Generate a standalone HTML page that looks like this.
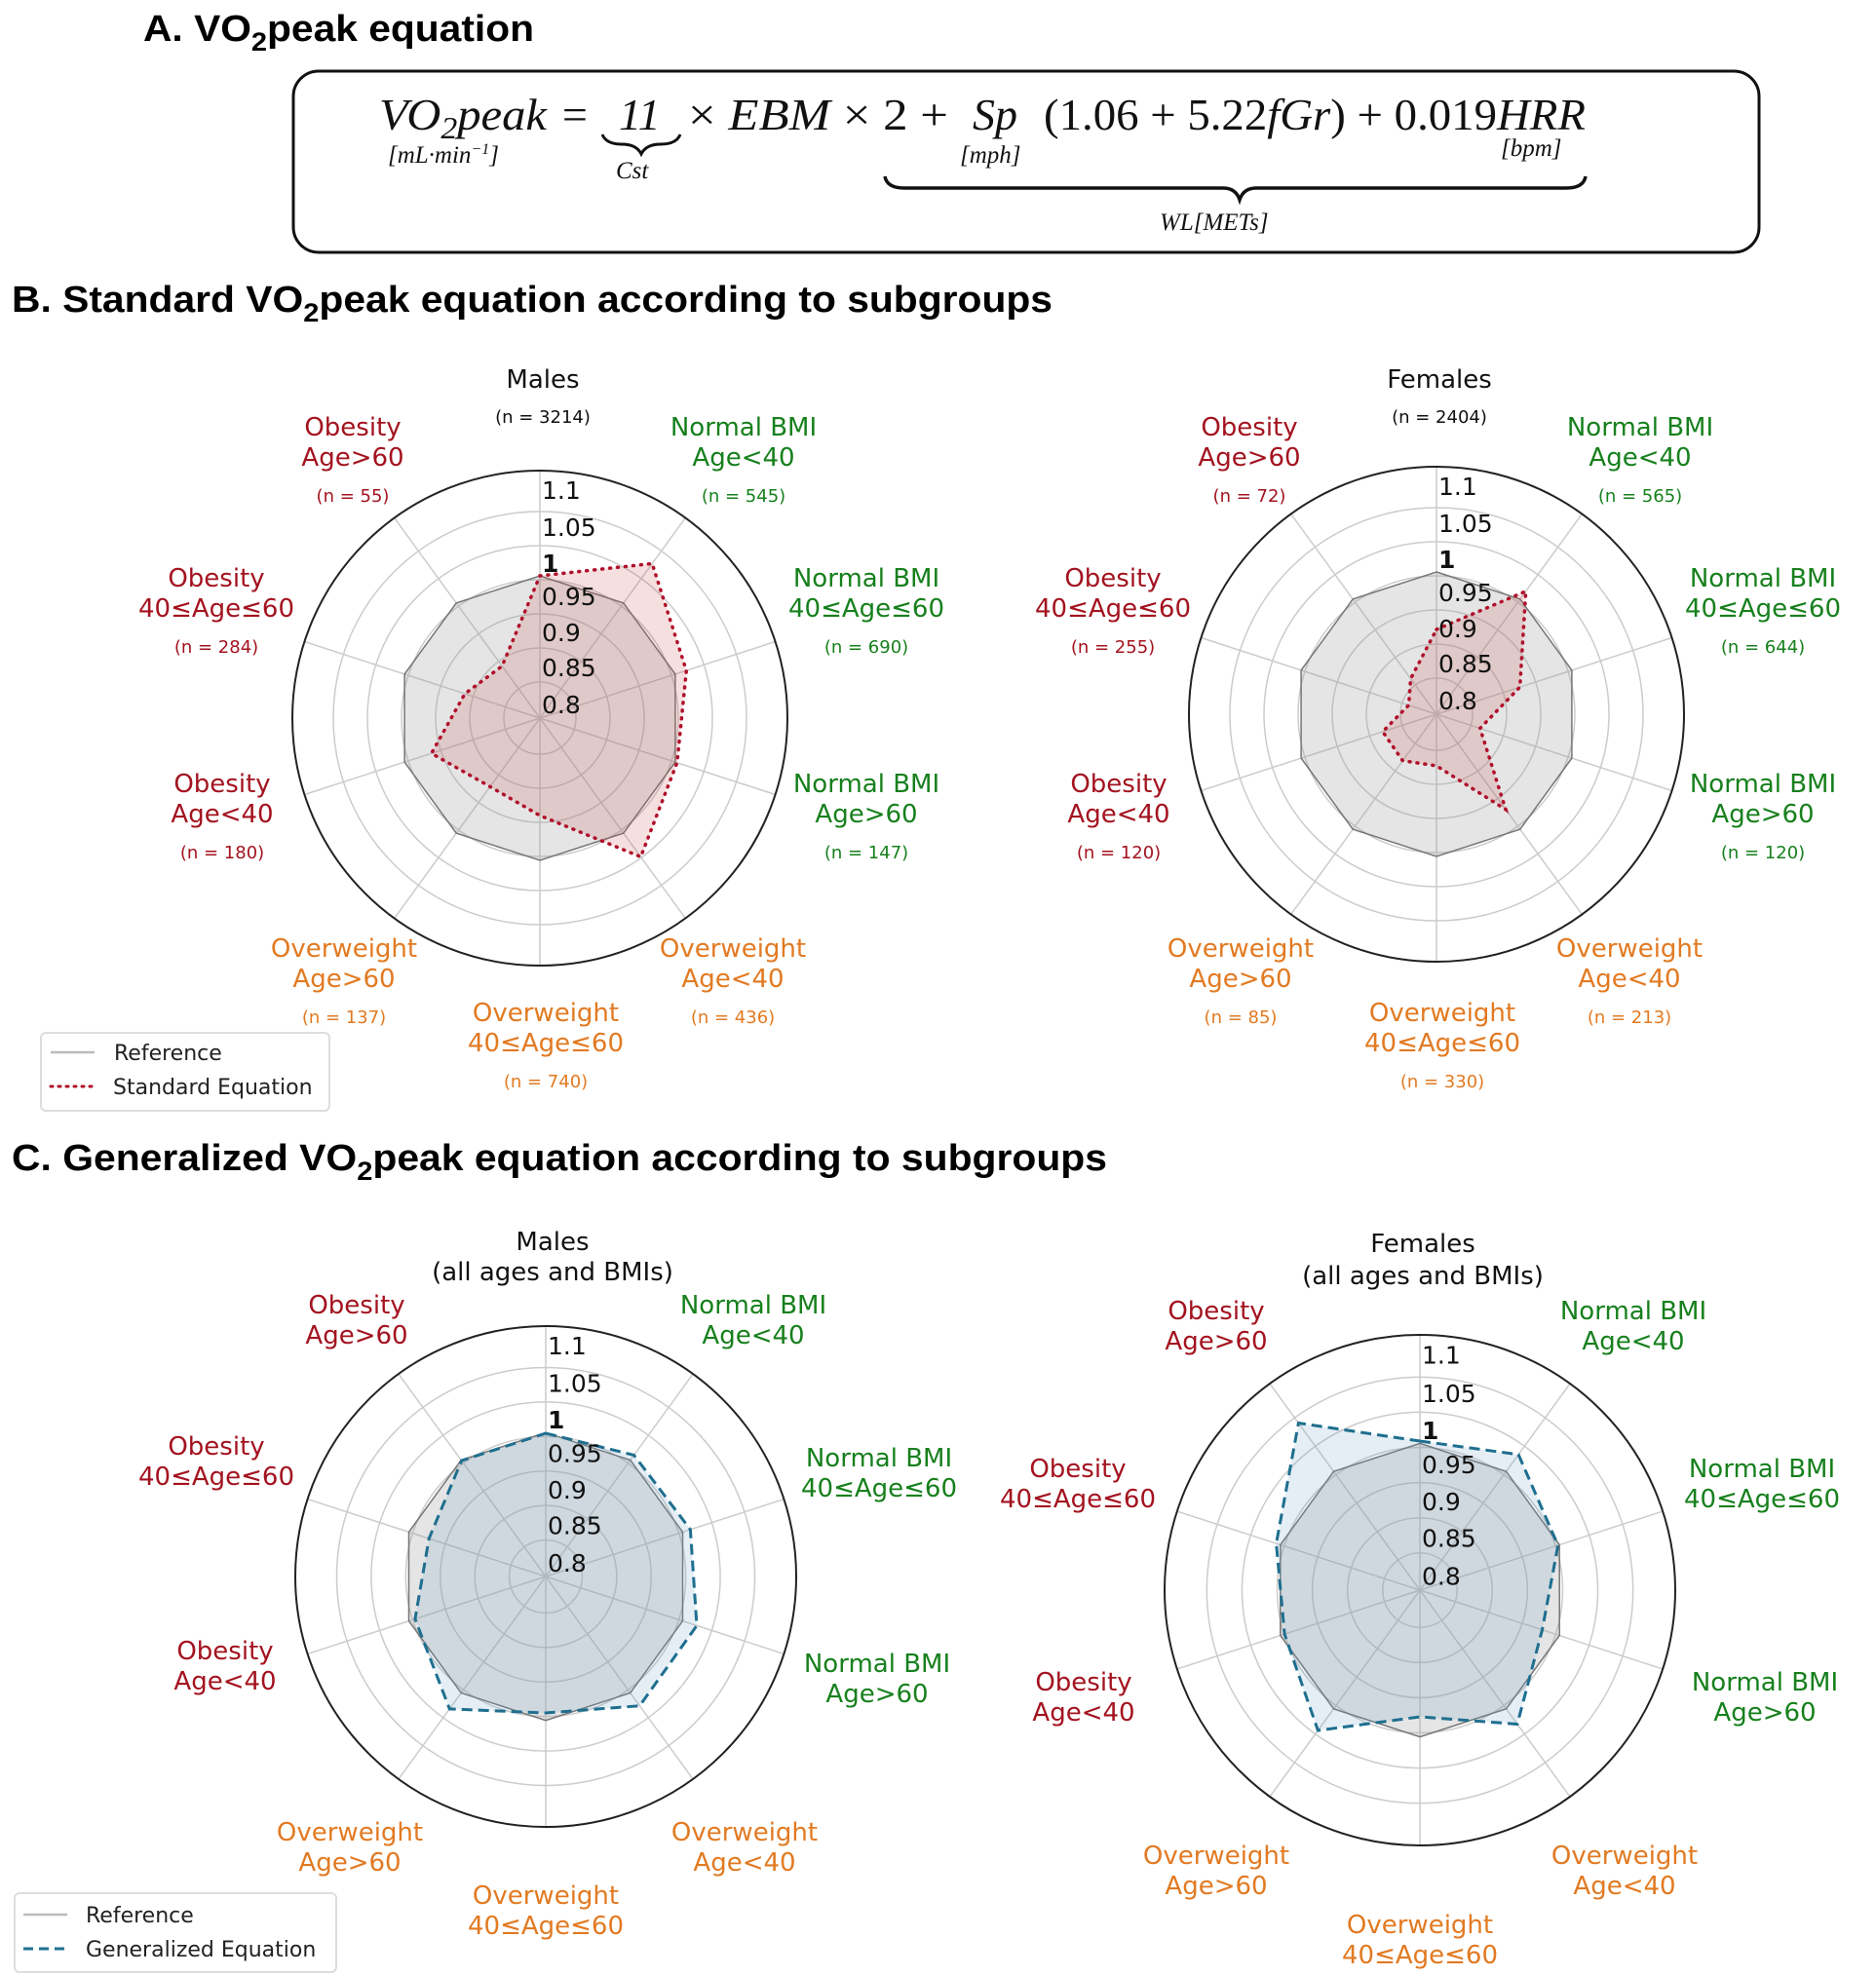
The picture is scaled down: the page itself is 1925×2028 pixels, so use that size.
<!DOCTYPE html>
<html><head><meta charset="utf-8">
<style>
html,body{margin:0;padding:0;background:#fff;}
svg{display:block;}
.h{font-family:"Liberation Sans",sans-serif;font-weight:bold;font-size:38px;fill:#000;}
.eq{font-family:"Liberation Serif",serif;font-style:italic;font-size:46px;fill:#111;}
.eqs{font-family:"Liberation Serif",serif;font-style:italic;font-size:25px;fill:#111;}
.lb{font-family:"DejaVu Sans","Liberation Sans",sans-serif;font-size:26px;}
.nl{font-family:"DejaVu Sans","Liberation Sans",sans-serif;font-size:18px;}
.tk{font-family:"DejaVu Sans","Liberation Sans",sans-serif;font-size:25px;fill:#111;}
.lg{font-family:"DejaVu Sans","Liberation Sans",sans-serif;font-size:22px;fill:#222;}
</style></head>
<body>
<svg id="s" width="1925" height="2028" viewBox="0 0 1925 2028" xmlns="http://www.w3.org/2000/svg">
<text class="h" x="147" y="42" font-size="37" textLength="401" lengthAdjust="spacingAndGlyphs">A. VO<tspan font-size="27" dy="10">2</tspan><tspan dy="-10">peak equation</tspan></text>
<rect x="301" y="73" width="1504" height="186" rx="26" fill="none" stroke="#111" stroke-width="3"/>
<text class="eq" x="389" y="133" textLength="172" lengthAdjust="spacingAndGlyphs">VO<tspan font-size="32" dy="9">2</tspan><tspan dy="-9">peak</tspan></text>
<text class="eq" x="574" y="133" font-style="normal">=</text>
<text class="eq" x="635" y="133" font-style="normal">11</text>
<text class="eq" x="706" y="133" textLength="267" lengthAdjust="spacingAndGlyphs"><tspan font-style="normal">×</tspan> EBM <tspan font-style="normal">× 2 +</tspan></text>
<text class="eq" x="998" y="133">Sp</text>
<text class="eq" x="1071" y="133" textLength="556" lengthAdjust="spacingAndGlyphs"><tspan font-style="normal">(1.06 + 5.22</tspan>fGr<tspan font-style="normal">) + 0.019</tspan>HRR</text>
<text class="eqs" x="398" y="167">[mL·min<tspan font-size="16" dy="-9">−1</tspan><tspan dy="9">]</tspan></text>
<text class="eqs" x="632" y="183">Cst</text>
<text class="eqs" x="985" y="167">[mph]</text>
<text class="eqs" x="1540" y="160">[bpm]</text>
<text class="eqs" x="1190" y="236">WL[METs]</text>
<path d="M618,138 q4,10 20,10 q15,0 20,10 q5,-10 20,-10 q16,0 20,-10" fill="none" stroke="#111" stroke-width="3"/>
<path d="M908,181 q2,12 20,12 l327,0 q13,0 17,12 q4,-12 17,-12 l318,0 q18,0 20,-12" fill="none" stroke="#111" stroke-width="3.5"/>
<text class="h" x="12" y="320" textLength="1068" lengthAdjust="spacingAndGlyphs">B. Standard VO<tspan font-size="27" dy="10">2</tspan><tspan dy="-10">peak equation according to subgroups</tspan></text>
<text class="h" x="12" y="1201" textLength="1124" lengthAdjust="spacingAndGlyphs">C. Generalized VO<tspan font-size="27" dy="10">2</tspan><tspan dy="-10">peak equation according to subgroups</tspan></text>
<g id="charts"></g>
<rect x="42" y="1060" width="296" height="80" rx="5" fill="#fff" stroke="#ddd" stroke-width="2"/>
<line x1="52" y1="1080" x2="97" y2="1080" stroke="#bbb" stroke-width="2.5"/>
<line x1="52" y1="1115" x2="97" y2="1115" stroke="#b0102a" stroke-width="3" stroke-dasharray="2,6" stroke-linecap="round"/>
<text class="lg" x="117" y="1088">Reference</text>
<text class="lg" x="116" y="1123">Standard Equation</text>
<rect x="15" y="1943" width="330" height="81" rx="5" fill="#fff" stroke="#ddd" stroke-width="2"/>
<line x1="24" y1="1965" x2="69" y2="1965" stroke="#bbb" stroke-width="2.5"/>
<line x1="24" y1="2000" x2="69" y2="2000" stroke="#1f6f8f" stroke-width="3" stroke-dasharray="10,6"/>
<text class="lg" x="88" y="1973">Reference</text>
<text class="lg" x="88" y="2008">Generalized Equation</text>
</svg>
<script>
var NS="http://www.w3.org/2000/svg",G=document.getElementById("charts");
function el(t,a,txt){var e=document.createElementNS(NS,t);for(var k in a)e.setAttribute(k,a[k]);if(txt!=null)e.textContent=txt;G.appendChild(e);return e;}
function pt(cx,cy,r,i){var a=i*Math.PI/5;return [cx+r*Math.sin(a),cy-r*Math.cos(a)];}
function poly(cx,cy,rs){return rs.map(function(r,i){var p=pt(cx,cy,r,i);return p[0].toFixed(1)+","+p[1].toFixed(1);}).join(" ");}
function radar(cx,cy,R,data,kind){
 var s=R/254;
 [37,72,107,142,177,212].forEach(function(r){el("circle",{cx:cx,cy:cy,r:r*s,fill:"none",stroke:"#ccc","stroke-width":1.5});});
 for(var i=0;i<10;i++){var p=pt(cx,cy,R,i);el("line",{x1:cx,y1:cy,x2:p[0],y2:p[1],stroke:"#ccc","stroke-width":1.5});}
 var g=[];for(i=0;i<10;i++)g.push(146*s);
 el("polygon",{points:poly(cx,cy,g),fill:"rgba(150,150,150,0.25)",stroke:"#777","stroke-width":1.5});
 if(kind=="r"){
  el("polygon",{points:poly(cx,cy,data),fill:"rgba(205,80,80,0.18)",stroke:"#b0102a","stroke-width":3.5,"stroke-dasharray":"1,7","stroke-linecap":"round"});
 }else{
  el("polygon",{points:poly(cx,cy,data),fill:"rgba(110,160,200,0.18)",stroke:"#1f6f8f","stroke-width":3,"stroke-dasharray":"11,6"});
 }
 el("circle",{cx:cx,cy:cy,r:R,fill:"none",stroke:"#222","stroke-width":2});
 var tl=["0.8","0.85","0.9","0.95","1","1.05","1.1"],tr=[14,52,88,125,159,196,234];
 for(i=0;i<7;i++){var t=el("text",{x:cx+2,y:cy-tr[i]*s+9,"class":"tk"},tl[i]);if(i==4)t.setAttribute("font-weight","bold");}
}
var RED="#a3131f",GRN="#17801d",ORG="#e27a22";
function lab(x,y,lines,col,n){
 el("text",{x:x,y:y+9,"class":"lb","text-anchor":"middle",fill:col},lines[0]);
 el("text",{x:x,y:y+40,"class":"lb","text-anchor":"middle",fill:col},lines[1]);
 if(n)el("text",{x:x,y:y+77,"class":"nl","text-anchor":"middle",fill:col},"(n = "+n+")");
}
var O=["Obesity","Age>60"],NA=["Normal BMI","Age<40"],NM=["Normal BMI","40≤Age≤60"],NO=["Normal BMI","Age>60"],
WA=["Overweight","Age<40"],WM=["Overweight","40≤Age≤60"],WO=["Overweight","Age>60"],OA=["Obesity","Age<40"],OM=["Obesity","40≤Age≤60"];
radar(554,737,254,[146,196,158,148,176,100,87,117,81,66],"r");
radar(1474,733,254,[87,156,90,47,121,53,59,58,30,45],"r");
function bLabels(dx,title,n){
 el("text",{x:1477+dx,y:398,"class":"lb","text-anchor":"middle",fill:"#111"},title);
 el("text",{x:1477+dx,y:434,"class":"nl","text-anchor":"middle",fill:"#111"},"(n = "+n[0]+")");
 lab(1282+dx,438,O,RED,n[1]);lab(1683+dx,438,NA,GRN,n[2]);lab(1809+dx,593,NM,GRN,n[3]);
 lab(1809+dx,804,NO,GRN,n[4]);lab(1672+dx,973,WA,ORG,n[5]);lab(1480+dx,1039,WM,ORG,n[6]);
 lab(1273+dx,973,WO,ORG,n[7]);lab(1148+dx,804,OA,RED,n[8]);lab(1142+dx,593,OM,RED,n[9]);
}
bLabels(-920,"Males",[3214,55,545,690,147,436,740,137,180,284]);
bLabels(0,"Females",[2404,72,565,644,120,213,330,85,120,255]);
radar(560,1618,257,[147,154,156,163,164,140,168,141,126,147],"b");
radar(1457,1632,262,[153,172,149,132,170,130,178,146,155,212],"b");
el("text",{x:567,y:1283,"class":"lb","text-anchor":"middle",fill:"#111"},"Males");
el("text",{x:567,y:1314,"class":"lb","text-anchor":"middle",fill:"#111"},"(all ages and BMIs)");
lab(366,1339,O,RED);lab(773,1339,NA,GRN);lab(902,1496,NM,GRN);lab(900,1707,NO,GRN);
lab(764,1880,WA,ORG);lab(560,1945,WM,ORG);lab(359,1880,WO,ORG);lab(231,1694,OA,RED);lab(222,1484,OM,RED);
el("text",{x:1460,y:1285,"class":"lb","text-anchor":"middle",fill:"#111"},"Females");
el("text",{x:1460,y:1318,"class":"lb","text-anchor":"middle",fill:"#111"},"(all ages and BMIs)");
lab(1248,1345,O,RED);lab(1676,1345,NA,GRN);lab(1106,1507,OM,RED);lab(1808,1507,NM,GRN);
lab(1112,1726,OA,RED);lab(1811,1726,NO,GRN);lab(1248,1904,WO,ORG);lab(1667,1904,WA,ORG);lab(1457,1975,WM,ORG);
</script>
</body></html>
